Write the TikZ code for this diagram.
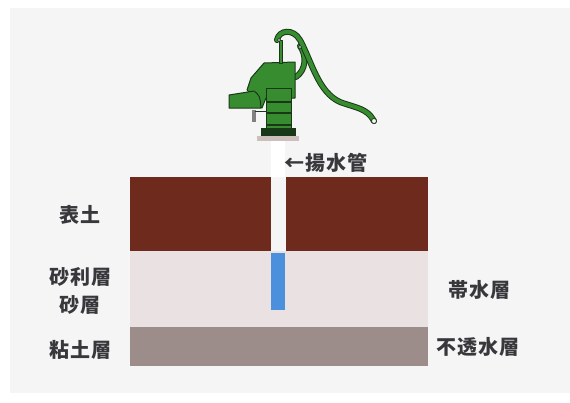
\documentclass[tikz,border=0pt]{standalone}
\usepackage{fontspec}
\usepackage{xcolor}
\usepackage{tikz}
\newfontfamily\jpfont[LetterSpace=5]{Noto Sans CJK JP}

\definecolor{page}{RGB}{245,245,245}
\definecolor{topsoil}{RGB}{110,42,28}
\definecolor{sand}{RGB}{234,226,226}
\definecolor{clay}{RGB}{156,141,138}
\definecolor{water}{RGB}{74,144,220}
\definecolor{pumpgreen}{RGB}{56,140,48}
\definecolor{pumpdark}{RGB}{24,56,24}
\definecolor{baseplate}{RGB}{205,192,186}
\definecolor{ink}{RGB}{55,55,60}

\begin{document}
\begin{tikzpicture}[x=1pt,y=-1pt,
    layerlabel/.style={font=\jpfont\bfseries\fontsize{20}{28}\selectfont,text=ink,inner sep=0pt,align=center},
    pumppart/.style={fill=pumpgreen,draw=pumpdark,line width=1pt,line join=round},
    lever/.style={draw=pumpgreen,line width=4pt,line cap=round,preaction={draw=pumpdark,line width=6pt,line cap=round}}]
    \useasboundingbox (0,0) rectangle (570,402);
    \fill[white] (0,0) rectangle (570,402);
    \fill[page] (10,8) rectangle (570,393);% printed page

    % ground layers
    \fill[topsoil] (130,177) rectangle (271,251);% topsoil, left of the pipe
    \fill[topsoil] (286,177) rectangle (428,251);% topsoil, right of the pipe
    \fill[sand] (130,251) rectangle (428,327);% gravel and sand
    \fill[clay] (130,327) rectangle (428,366);% clay
    \fill[white] (271,141) rectangle (285,177);% pipe above ground
    \fill[water] (271,253) rectangle (285,310);% water in the pipe

    % hand pump
    \fill[baseplate] (257,136) rectangle (299,141);% base plate
    \fill[pumpdark] (261,128) rectangle (296,136);% foot
    \fill[gray] (252,110) rectangle (256,122);% drain valve
    \draw[pumpdark,line width=1pt] (255,111) -- (266,111);
    \draw[lever] (296,77) .. controls (306,70) and (307,56) .. (300,46);% link
    \draw[pumppart] (264,63) -- (295,62) -- (295,98) -- (266,98) -- (262,108)
        .. controls (256,104) .. (252,95) -- (247,90) -- (251,78) -- cycle;% head
    \draw[pumppart] (229,95) -- (254,91) .. controls (260,96) .. (261,108) -- (229,108) -- cycle;% spout
    \draw[pumppart] (266,88) rectangle (291,128);% barrel
    \foreach \y in {102,113,125}
        \draw[pumpdark,line width=1.3pt] (266,\y) -- (291,\y);
    \draw[pumppart] (279,40) rectangle (282,63);% rod
    \draw[lever] (277,40) .. controls (279,30) and (293,28) .. (300,40)
        .. controls (312,62) and (318,92) .. (340,102)
        .. controls (356,108) and (367,108) .. (374,121);% handle
    \draw[pumpdark,fill=white,line width=0.8pt] (374,121) circle (2.5);% handle end
    \draw[pumpdark,fill=white,line width=0.6pt] (279,40) circle (1.6);% pivots
    \draw[pumpdark,fill=white,line width=0.6pt] (300,47) circle (1.6);

    % labels
    \node[layerlabel,anchor=west] (pipe) at (284,163) {←揚水管};
    \node[layerlabel] (topsoilname) at (80,215) {表土};
    \node[layerlabel] (gravelname) at (80,291) {砂利層\\砂層};
    \node[layerlabel] (clayname) at (80,350) {粘土層};
    \node[layerlabel] (aquifer) at (479,290) {帯水層};
    \node[layerlabel] (aquiclude) at (478,347) {不透水層};
\end{tikzpicture}
\end{document}
